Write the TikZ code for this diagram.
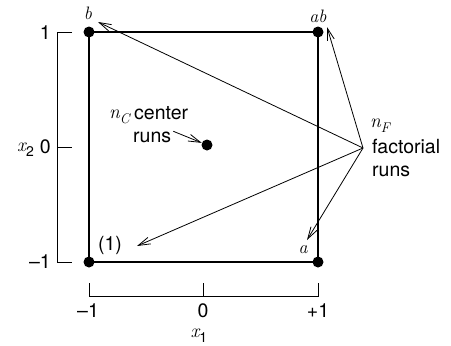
\documentclass[tikz,border=0pt]{standalone}
\usepackage{fontspec}
\setmainfont{TeX Gyre Heros}
\newfontfamily\varfont{Latin Modern Roman}
\newcommand{\varit}{\varfont\itshape}
\newcommand{\subidx}[1]{\raisebox{-0.28em}{\fontsize{14}{16}\selectfont #1}}
\usetikzlibrary{arrows.meta}
\begin{document}
\begin{tikzpicture}[x=1pt,y=-1pt,
    every node/.style={inner sep=0pt,font=\fontsize{19.5}{21}\selectfont},
    var/.style={font=\fontsize{18}{21}\selectfont\varit},
    dot/.style={circle,fill,minimum size=11pt},
    ptr/.style={line width=0.8pt,-{Straight Barb[length=12pt,width=7pt]}}]
\useasboundingbox (0,0) rectangle (451,346);
% design square and its runs
\draw[line width=1.8pt] (89,32) rectangle (318,262);
\node[dot] (pb) at (89,32) {};
\node[dot] (pab) at (318,32) {};
\node[dot] (pone) at (89,262) {};
\node[dot] (pa) at (318,262) {};
\node[dot] (pc) at (207,145) {};
\node[var,anchor=base] (lb) at (88,19) {b};
\node[var,anchor=base] (lab) at (318,22) {ab};
\node[var,anchor=base] (la) at (303,253) {a};
\node[anchor=base] (lone) at (110,250) {(1)};
% scale of x_2
\draw[line width=1pt] (72,32) -- (57,32) -- (57,262) -- (72,262);
\draw[line width=1pt] (57,147) -- (72,147);
\node[anchor=base east] (yp) at (51,39) {1};
\node[anchor=base east] (yz) at (51,153) {0};
\node[anchor=base east] (ym) at (51,268) {\textendash1};
\node[anchor=base east] (ylab) at (34,151) {{\varit x}\subidx{2}};
% scale of x_1
\draw[line width=1pt] (89,283) -- (89,296) -- (318,296) -- (318,283);
\draw[line width=1pt] (203,296) -- (203,283);
\node[anchor=base] (xm) at (88,317) {\textendash1};
\node[anchor=base] (xz) at (203,317) {0};
\node[anchor=base] (xp) at (318,317) {+1};
\node[anchor=base] (xlab) at (199,337) {{\varit x}\subidx{1}};
% center runs
\node[anchor=base west] (nc) at (109,118) {{\varit n}\subidx{\varit C}};
\node[anchor=base west] (ctext) at (134,119) {center};
\node[anchor=base west] (cruns) at (133,142) {runs};
\draw[ptr] ([xshift=2pt]cruns.north east) -- (pc);
% factorial runs
\node[anchor=base west] (nf) at (370,127) {{\varit n}\subidx{\varit F}};
\node[anchor=base west] (ftext) at (372,153) {factorial};
\node[anchor=base west] (fruns) at (372,176) {runs};
\coordinate (src) at (363,148);
\coordinate (tb) at (98,22);
\coordinate (tab) at (327,27);
\coordinate (tone) at (137,246);
\coordinate (ta) at (307,240);
\draw[ptr] (src) -- (tb);
\draw[ptr] (src) -- (tab);
\draw[ptr] (src) -- (tone);
\draw[ptr] (src) -- (ta);
\end{tikzpicture}
\end{document}
